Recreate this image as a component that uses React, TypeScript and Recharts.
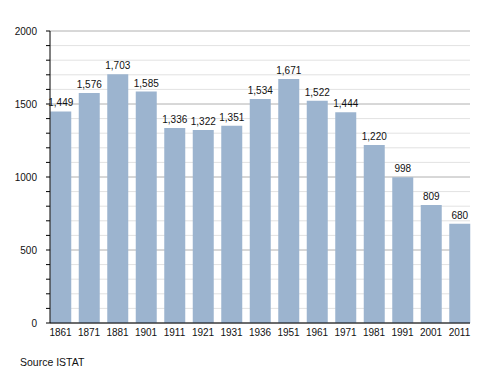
import { Bar, BarChart, CartesianGrid, LabelList, XAxis, YAxis } from "recharts";

const years = ["1861", "1871", "1881", "1901", "1911", "1921", "1931", "1936", "1951", "1961", "1971", "1981", "1991", "2001", "2011"];
const population = [1449, 1576, 1703, 1585, 1336, 1322, 1351, 1534, 1671, 1522, 1444, 1220, 998, 809, 680];
const yTicks = Array.from({ length: 21 }, (_, i) => i * 100);

const data = years.map((year, i) => ({ year, value: population[i] }));

const FONT = "'Liberation Sans', Arial, sans-serif";

function YTick({ x, y, payload }: { x?: number; y?: number; payload?: { value: number } }) {
  if (!payload || payload.value % 500 !== 0) return null;
  return (
    <text x={x} y={y} dy={4} textAnchor="end" fontSize={10} fill="#111" fontFamily={FONT}>
      {payload.value}
    </text>
  );
}

// grid: light lines every 100, darker every 500
function GridLine(props: { x1?: number; x2?: number; y1?: number; y2?: number; index?: number }) {
  const major = (props.index ?? 0) % 5 === 0;
  return (
    <line
      x1={props.x1}
      x2={props.x2}
      y1={props.y1}
      y2={props.y2}
      stroke={major ? "#b0b0b0" : "#e2e2e2"}
      strokeWidth={1}
    />
  );
}

export default function App() {
  return (
    <div style={{ position: "absolute", left: 0, top: 0, width: 500, height: 373, background: "#fff" }}>
      <BarChart width={500} height={373} data={data} margin={{ top: 31, right: 30, bottom: 0, left: 0 }}>
        <CartesianGrid vertical={false} horizontal={(p: any) => <GridLine key={p.key ?? p.index} {...p} />} />
        <XAxis
          dataKey="year"
          height={50}
          padding={{ left: -3.75, right: -3.75 }}
          tickLine={false}
          axisLine={{ stroke: "#000" }}
          tick={{ fontSize: 10, fill: "#111", fontFamily: FONT }}
          tickMargin={0}
          interval={0}
        />
        <YAxis
          width={50}
          domain={[0, 2000]}
          ticks={yTicks}
          interval={0}
          tickSize={4}
          tickMargin={9}
          tickLine={{ stroke: "#000" }}
          axisLine={{ stroke: "#000" }}
          tick={<YTick />}
        />
        <Bar dataKey="value" fill="#9cb4cf" barSize={21} isAnimationActive={false}>
          <LabelList
            dataKey="value"
            position="top"
            offset={5}
            formatter={(v: any) => Number(v).toLocaleString("en-US")}
            style={{ fontSize: 10, fill: "#111", fontFamily: FONT }}
          />
        </Bar>
      </BarChart>
      <div style={{ position: "absolute", left: 20, top: 356, fontSize: 10.5, fontFamily: FONT, color: "#111" }}>
        Source ISTAT
      </div>
    </div>
  );
}
